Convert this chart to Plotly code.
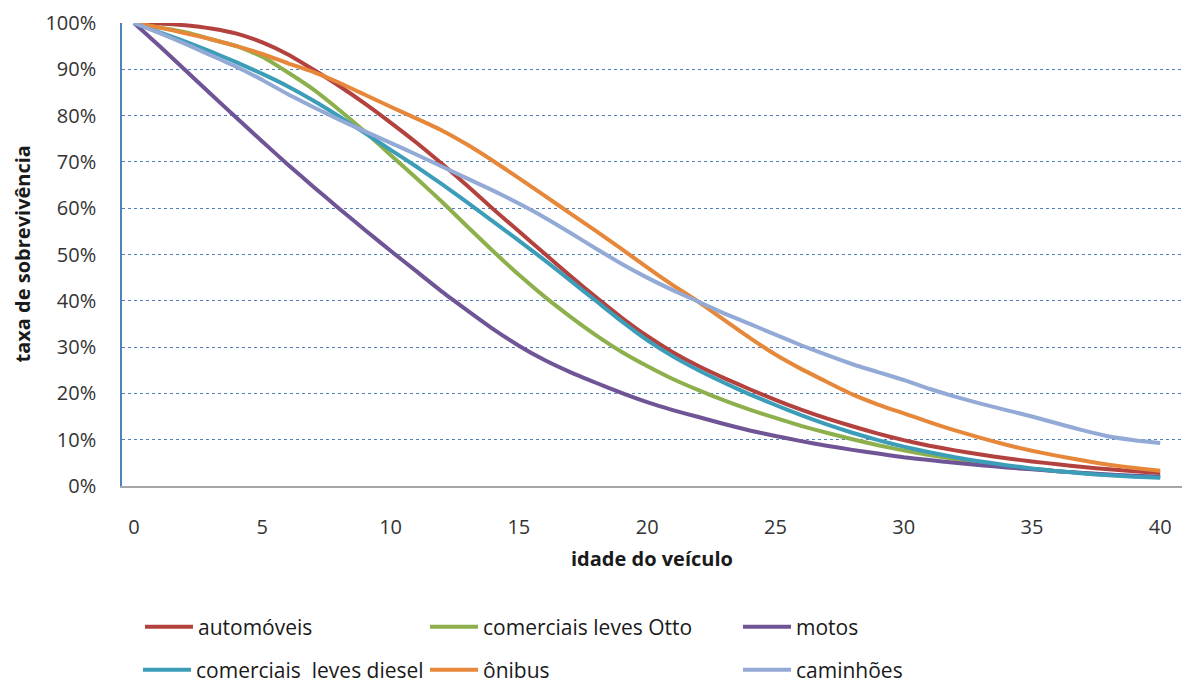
import plotly.graph_objects as go

ages = list(range(41))

automoveis = [100, 99.9, 99.5, 98.8, 97.7, 95.8, 93.2, 89.9, 86.4, 82.6, 78.5, 74.2, 69.6, 64.8, 59.8, 55, 50.2, 45.4, 40.8, 36.4, 32.4,
              28.9, 25.9, 23.3, 20.9, 18.6, 16.5, 14.6, 12.9, 11.3, 9.9, 8.7, 7.7, 6.8, 6, 5.3, 4.7, 4.1, 3.6, 3.2, 2.8]
comerciais_otto = [100, 99, 98, 96.5, 95, 92.7, 89.3, 85.6, 81.2, 76.5, 71.5, 66.5, 61.4, 56, 50.7, 45.6, 40.9, 36.6, 32.6, 29, 25.9,
                   23.1, 20.7, 18.5, 16.5, 14.7, 13, 11.5, 10.1, 8.8, 7.7, 6.7, 5.8, 5, 4.3, 3.7, 3.2, 2.8, 2.4, 2.1, 1.9]
motos = [100, 95, 89.8, 84.6, 79.5, 74.4, 69.4, 64.6, 59.9, 55.3, 50.8, 46.4, 42, 37.9, 33.9, 30.3, 27.2, 24.6, 22.3, 20.1, 18.1,
         16.4, 14.9, 13.4, 12, 10.8, 9.7, 8.7, 7.8, 7, 6.2, 5.6, 5, 4.5, 4, 3.6, 3.2, 2.8, 2.5, 2.2, 2]
comerciais_diesel = [100, 98, 96, 93.8, 91.5, 89, 86.3, 83.2, 79.8, 76.2, 72.6, 69, 65.2, 61.2, 57.1, 53, 48.8, 44.4, 40, 35.6, 31.5,
                     28, 25, 22.3, 19.8, 17.5, 15.3, 13.3, 11.5, 9.9, 8.5, 7.3, 6.2, 5.3, 4.5, 3.8, 3.2, 2.7, 2.3, 2, 1.8]
onibus = [100, 99, 97.8, 96.5, 95, 93.3, 91.3, 89.4, 87.1, 84.5, 81.9, 79.4, 76.8, 73.7, 70.2, 66.5, 62.7, 58.9, 55.1, 51.2, 47.2,
          43.4, 39.8, 35.9, 32, 28.4, 25.3, 22.5, 19.8, 17.6, 15.7, 13.8, 12, 10.4, 8.9, 7.6, 6.5, 5.5, 4.6, 3.9, 3.3]
caminhoes = [100, 97.8, 95.5, 93, 90.5, 87.7, 84.6, 81.8, 79.1, 76.6, 74.1, 71.6, 69, 66.4, 63.8, 61, 58, 54.7, 51.3, 48, 45,
             42.3, 39.8, 37.3, 35, 32.7, 30.4, 28.3, 26.3, 24.6, 22.9, 21, 19.3, 17.8, 16.4, 15, 13.5, 12, 10.7, 9.9, 9.3]

series_names = ["automóveis", "comerciais leves Otto", "motos",
                "comerciais  leves diesel", "ônibus", "caminhões"]
series_values = [automoveis, comerciais_otto, motos, comerciais_diesel, onibus, caminhoes]
series_colors = ["#B3423F", "#8DB04C", "#6F5596", "#3C9DB8", "#E6873A", "#93AAD6"]

x_ticks = list(range(0, 41, 5))
y_ticks = [i / 10 for i in range(11)]
y_tick_labels = [f"{i * 10}%" for i in range(11)]

fig = go.Figure()

# legend positions (pixel left, pixel center-y)
legend_px = [(140, 627), (425, 627), (738, 627), (138, 670), (425, 670), (738, 670)]
W, H = 1184, 684
ml, mr, mt, mb = 122, 2, 23, 198
pw, ph = W - ml - mr, H - mt - mb

layout_legends = {}
for i, (name, vals, col) in enumerate(zip(series_names, series_values, series_colors)):
    lg = "legend" if i == 0 else f"legend{i + 1}"
    fig.add_trace(go.Scatter(
        x=ages, y=[v / 100 for v in vals], name=name, mode="lines",
        line=dict(color=col, width=4, shape="spline", smoothing=0.5),
        legend=lg,
    ))
    px, py = legend_px[i]
    layout_legends[lg] = dict(
        x=(px - ml) / pw, y=(mt + ph - py) / ph,
        xanchor="left", yanchor="middle",
        orientation="h", bgcolor="rgba(0,0,0,0)",
        font=dict(family="Open Sans", size=21, color="#1a1a1a"),
        itemwidth=48,
    )

fig.update_layout(
    width=W, height=H,
    margin=dict(l=ml, r=mr, t=mt, b=mb, autoexpand=False),
    paper_bgcolor="white", plot_bgcolor="white",
    showlegend=True,
    **layout_legends,
    xaxis=dict(
        range=[-0.47, 40.85], tickvals=x_ticks, ticktext=[str(t) for t in x_ticks],
        showgrid=False, zeroline=False, showline=True, linecolor="#A6A6A6", linewidth=2,
        ticks="", ticklabelstandoff=22,
        tickfont=dict(family="Open Sans", size=20, color="#333333"),
    ),
    yaxis=dict(
        range=[0, 1], tickvals=y_ticks, ticktext=y_tick_labels,
        showgrid=True, gridcolor="#4F81BD", gridwidth=1, griddash="dot",
        zeroline=False, showline=True, linecolor="#4F81BD", linewidth=1.5,
        ticks="", ticklabelstandoff=20,
        tickfont=dict(family="Open Sans", size=20, color="#333333"),
    ),
    annotations=[
        dict(text="<b>idade do veículo</b>", xref="paper", yref="paper", x=0.5, y=0,
             xanchor="center", yanchor="middle", yshift=-72, showarrow=False,
             font=dict(family="Open Sans", size=20, color="#1a1a1a")),
        dict(text="<b>taxa de sobrevivência</b>", xref="paper", yref="paper", x=0, y=0.5,
             xanchor="center", yanchor="middle", xshift=-100, textangle=-90, showarrow=False,
             font=dict(family="Open Sans", size=20, color="#1a1a1a")),
    ],
)

fig.write_html("out.html")
